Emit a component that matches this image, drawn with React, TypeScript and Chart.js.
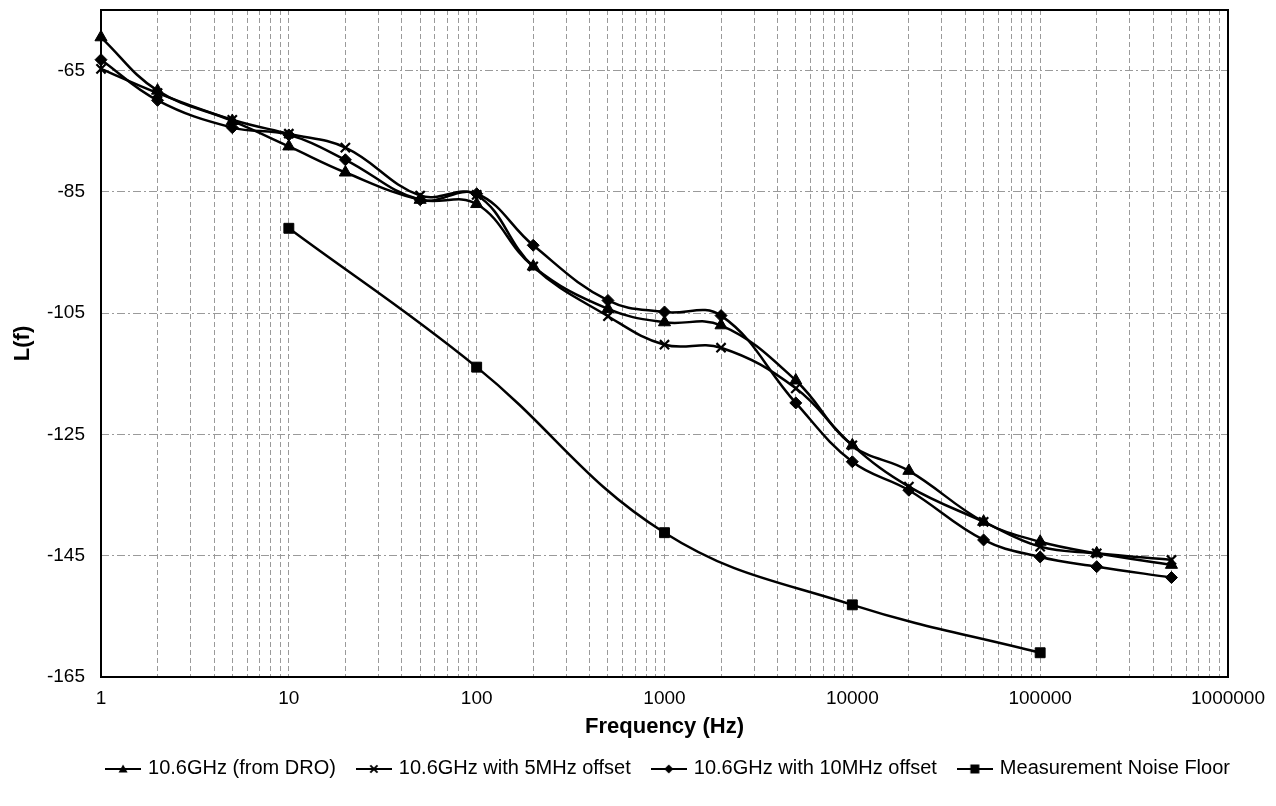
import React, { useEffect, useRef } from "react";
import { Chart, registerables } from "chart.js";

Chart.register(...registerables);

// ---------- data ----------
const freqs = [1, 2, 5, 10, 20, 50, 100, 200, 500, 1000, 2000, 5000, 10000, 20000, 50000, 100000, 200000, 500000];
const droValues = [-59.5, -68.3, -73.3, -77.5, -81.8, -86.3, -87.0, -97.3, -104.3, -106.5, -107.0, -116.1, -126.8, -131.0, -139.4, -142.7, -144.6, -146.5];
const offset5Values = [-64.7, -68.7, -73.1, -75.4, -77.7, -85.6, -85.5, -97.3, -105.5, -110.2, -110.7, -117.4, -126.8, -133.6, -139.4, -143.5, -144.6, -145.7];
const offset10Values = [-63.2, -69.9, -74.4, -75.6, -79.7, -86.3, -85.3, -93.8, -102.9, -104.8, -105.4, -119.8, -129.5, -134.2, -142.4, -145.2, -146.8, -148.6];
const noiseFreqs = [10, 100, 1000, 10000, 100000];
const noiseValues = [-91.0, -113.9, -141.2, -153.1, -161.0];

const seriesLabels = [
  "10.6GHz (from DRO)",
  "10.6GHz with 5MHz offset",
  "10.6GHz with 10MHz offset",
  "Measurement Noise Floor",
];
const seriesMarkers = ["triangle", "crossRot", "rectRot", "rect"];
const seriesMarkerRadius = [7, 6.5, 6, 7];

const xTickLabels = ["1", "10", "100", "1000", "10000", "100000", "1000000"];
const yTickValues = [-165, -145, -125, -105, -85, -65];

const FONT = "'Liberation Sans', Arial, Helvetica, sans-serif";

function makeLegendImage(marker: string): HTMLCanvasElement {
  const c = document.createElement("canvas");
  c.width = 36;
  c.height = 14;
  const ctx = c.getContext("2d")!;
  ctx.strokeStyle = "#000";
  ctx.fillStyle = "#000";
  ctx.lineWidth = 2;
  ctx.beginPath();
  ctx.moveTo(0, 8);
  ctx.lineTo(36, 8);
  ctx.stroke();
  const cx = 18, cy = 8, r = 4.5;
  ctx.beginPath();
  if (marker === "triangle") {
    ctx.moveTo(cx, cy - r);
    ctx.lineTo(cx + r, cy + r * 0.75);
    ctx.lineTo(cx - r, cy + r * 0.75);
    ctx.closePath();
    ctx.fill();
  } else if (marker === "crossRot") {
    ctx.moveTo(cx - r * 0.8, cy - r * 0.8);
    ctx.lineTo(cx + r * 0.8, cy + r * 0.8);
    ctx.moveTo(cx + r * 0.8, cy - r * 0.8);
    ctx.lineTo(cx - r * 0.8, cy + r * 0.8);
    ctx.stroke();
  } else if (marker === "rectRot") {
    ctx.moveTo(cx, cy - r);
    ctx.lineTo(cx + r, cy);
    ctx.lineTo(cx, cy + r);
    ctx.lineTo(cx - r, cy);
    ctx.closePath();
    ctx.fill();
  } else {
    ctx.rect(cx - r, cy - r, 2 * r, 2 * r);
    ctx.fill();
  }
  return c;
}

const framePlugin = {
  id: "frame",
  afterLayout(chart: any) {
    // centre the legend row under the plot area rather than the whole canvas
    const lg = chart.legend;
    if (lg) {
      lg.left = 62;
      lg.width = lg.right - lg.left;
    }
  },
  beforeDatasetsDraw(chart: any) {
    const { ctx, chartArea } = chart;
    ctx.save();
    ctx.strokeStyle = "#000";
    ctx.lineWidth = 2;
    ctx.strokeRect(chartArea.left, chartArea.top, chartArea.right - chartArea.left, chartArea.bottom - chartArea.top);
    ctx.restore();
  },
};

export default function App() {
  const canvasRef = useRef<HTMLCanvasElement | null>(null);

  useEffect(() => {
    if (!canvasRef.current) return;
    const majors = xTickLabels.map(Number);
    const xTicks: number[] = [];
    majors.forEach((d, i) => {
      xTicks.push(d);
      if (i < majors.length - 1) for (let k = 2; k <= 9; k++) xTicks.push(k * d);
    });
    const legendImages = seriesMarkers.map(makeLegendImage);

    const mk = (label: string, xs: number[], ys: number[], idx: number) => ({
      label,
      data: xs.map((x, i) => ({ x, y: ys[i] })),
      borderColor: "#000",
      backgroundColor: "#000",
      borderWidth: 2.5,
      pointStyle: seriesMarkers[idx],
      pointRadius: seriesMarkerRadius[idx],
      pointBorderWidth: seriesMarkers[idx] === "crossRot" ? 2.2 : 1,
      pointBackgroundColor: "#000",
      pointBorderColor: "#000",
      tension: 0.4,
      clip: false as any,
    });

    const chart = new Chart(canvasRef.current, {
      type: "line",
      data: {
        datasets: [
          mk(seriesLabels[0], freqs, droValues, 0),
          mk(seriesLabels[1], freqs, offset5Values, 1),
          mk(seriesLabels[2], freqs, offset10Values, 2),
          mk(seriesLabels[3], noiseFreqs, noiseValues, 3),
        ] as any,
      },
      options: {
        animation: false,
        responsive: false,
        devicePixelRatio: 1,
        layout: { padding: { top: 0, right: 0, bottom: 18, left: 0 } },
        font: { family: FONT },
        plugins: {
          tooltip: { enabled: false },
          legend: {
            position: "bottom",
            fullSize: true,
            labels: {
              usePointStyle: true,
              pointStyleWidth: 30,
              padding: 23,
              color: "#000",
              font: { family: FONT, size: 20 },
              generateLabels: (ch: any) => {
                const items = (Chart.defaults.plugins.legend.labels as any).generateLabels(ch);
                items.forEach((it: any, i: number) => {
                  it.pointStyle = legendImages[i];
                });
                return items;
              },
            },
          },
        },
        scales: {
          x: {
            type: "logarithmic",
            min: 1,
            max: 1000000,
            afterBuildTicks: (s: any) => {
              s.ticks = xTicks.map((v) => ({ value: v, major: majors.includes(v) }));
            },
            afterFit: (s: any) => {
              s.height = 58;
              s.paddingRight = 48;
              s.paddingLeft = 0;
            },
            ticks: {
              autoSkip: false,
              maxRotation: 0,
              minRotation: 0,
              padding: 10,
              color: "#000",
              font: { family: FONT, size: 19 },
              callback: (v: any) => {
                const i = majors.indexOf(Number(v));
                return i >= 0 ? xTickLabels[i] : "";
              },
            },
            grid: { color: "#9a9a9a", lineWidth: 1, drawTicks: false },
            border: { display: false, dash: [5, 3] },
            title: {
              display: true,
              text: "Frequency (Hz)",
              color: "#000",
              font: { family: FONT, size: 22, weight: "bold" },
              padding: { top: 0, bottom: -5 },
            },
          },
          y: {
            type: "linear",
            min: -165,
            max: -55,
            afterBuildTicks: (s: any) => {
              s.ticks = yTickValues.map((v) => ({ value: v }));
            },
            afterFit: (s: any) => {
              s.width = 101;
              s.paddingTop = 10;
              s.paddingBottom = 0;
            },
            ticks: {
              padding: 16,
              color: "#000",
              font: { family: FONT, size: 19 },
              callback: (v: any) => String(v),
            },
            grid: { color: "#9a9a9a", lineWidth: 1, drawTicks: false },
            border: { display: false, dash: [8, 3, 2, 3] },
            title: {
              display: true,
              text: "L(f)",
              color: "#000",
              font: { family: FONT, size: 22, weight: "bold" },
              padding: { top: 10, bottom: 0 },
            },
          },
        },
      } as any,
      plugins: [framePlugin],
    });
    return () => chart.destroy();
  }, []);

  return (
    <div style={{ position: "absolute", left: 0, top: 0, width: 1276, height: 806, background: "#fff" }}>
      <canvas ref={canvasRef} width={1276} height={806} style={{ width: 1276, height: 806, display: "block" }} />
    </div>
  );
}
